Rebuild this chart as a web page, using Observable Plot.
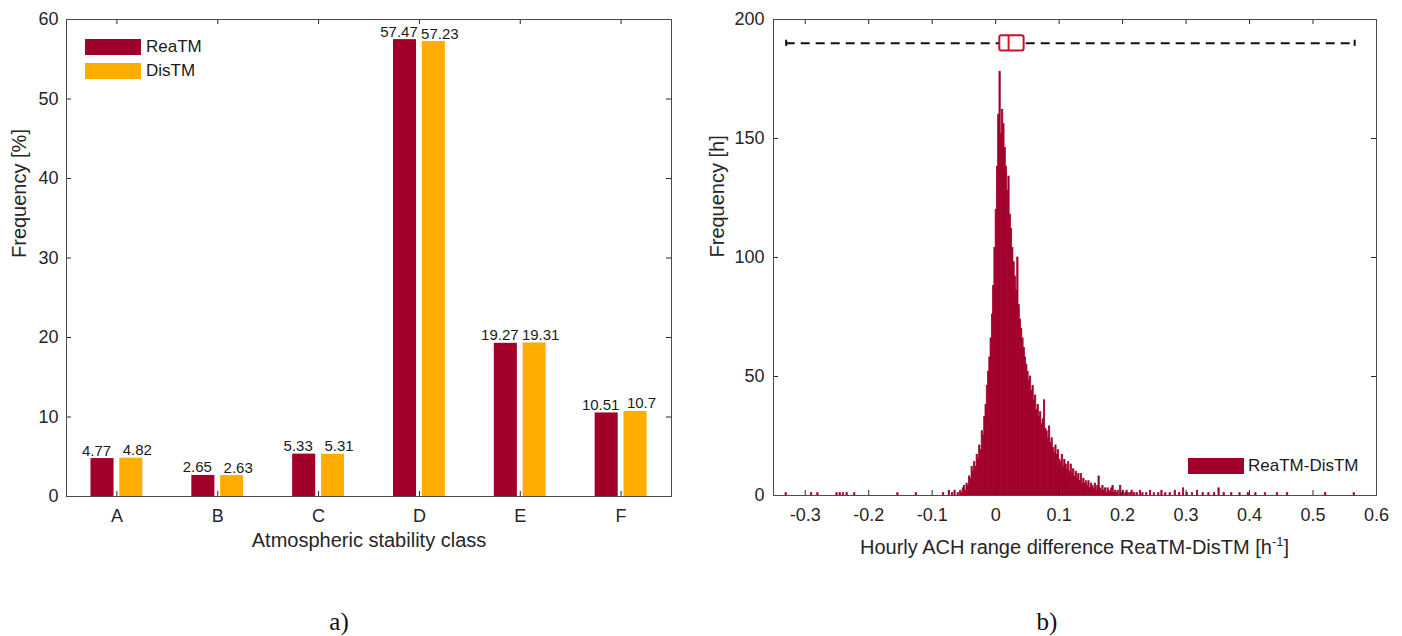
<!DOCTYPE html>
<html>
<head>
<meta charset="utf-8">
<script src="https://cdn.jsdelivr.net/npm/d3@7"></script>
<script src="https://cdn.jsdelivr.net/npm/@observablehq/plot@0.6"></script>
<style>
  html, body { margin: 0; padding: 0; background: #fff; }
  #fig { position: relative; width: 1402px; height: 636px; overflow: hidden;
         font-family: "Liberation Sans", Arial, Helvetica, sans-serif; color: #262626; }
  .panel { position: absolute; top: 0; }
  .sw { position: absolute; width: 56px; height: 16px; }
  .lt { position: absolute; font-size: 17px; line-height: 16px; white-space: nowrap; color: #1a1a1a; }
  .tag { position: absolute; font-family: "Liberation Serif", "Times New Roman", serif; font-size: 25px;
         color: #111; transform: translate(-50%, -50%); }
</style>
</head>
<body>
<div id="fig">
  <div id="left" class="panel" style="left:0px"></div>
  <div id="right" class="panel" style="left:700px"></div>
  <div class="tag" style="left:339px; top:622px">a)</div>
  <div class="tag" style="left:1047px; top:622px">b)</div>
</div>
<script>
// ---- a) frequency of atmospheric stability classes ----
const classes = ["A", "B", "C", "D", "E", "F"];
const reaTM = [4.77, 2.65, 5.33, 57.47, 19.27, 10.51];
const disTM = [4.82, 2.63, 5.31, 57.23, 19.31, 10.7];
const seriesNames = ["ReaTM", "DisTM"];
const seriesColors = ["#a1002b", "#ffad00"];
const freqTicks = [0, 10, 20, 30, 40, 50, 60];

// ---- b) histogram of hourly ACH range difference ----
const coreStart = -0.06;   // left edge of the first regular bin
const binWidth = 0.002;
const coreCounts = [
  1, 0, 2, 1, 3, 4, 2, 5, 4, 8,
  7, 12, 10, 14, 12, 17, 15, 21, 19, 27,
  25, 33, 38, 46, 52, 58, 66, 76, 88, 104,
  120, 138, 160, 178, 152, 162, 156, 146, 138, 128,
  134, 118, 112, 104, 98, 92, 86, 100, 80, 74,
  70, 66, 62, 58, 55, 52, 48, 50, 44, 46,
  40, 42, 36, 38, 33, 35, 30, 32, 40, 28,
  27, 24, 29, 22, 24, 20, 18, 21, 17, 19,
  15, 14, 17, 12, 15, 13, 11, 14, 10, 13,
  9, 11, 8, 10, 7, 9, 6, 9, 5, 7,
  5, 6, 4, 6, 3, 5, 4, 3, 5, 2,
  4, 8, 3, 2, 4, 2, 3, 1, 3, 2,
  1, 3, 4, 1, 2, 1, 2, 0, 4, 1,
  2, 0, 1, 2, 1, 0, 1, 2, 0, 1
];
// isolated bins in the far tails (bin centre, count)
const tailCenters = [
  -0.330, -0.290, -0.280, -0.250, -0.245, -0.240, -0.234, -0.222, -0.154, -0.125,
  -0.082, -0.073, -0.068, -0.064,
  0.223, 0.228, 0.232, 0.238, 0.244, 0.250, 0.257, 0.262, 0.268, 0.275,
  0.283, 0.290, 0.296, 0.302, 0.310, 0.318, 0.327, 0.336, 0.345, 0.352,
  0.360, 0.372, 0.385, 0.398, 0.410, 0.425, 0.444, 0.460, 0.520, 0.565
];
const tailCounts = [
  1, 1, 1, 1, 1, 1, 1, 1, 1, 1,
  1, 2, 1, 2,
  1, 2, 1, 1, 2, 1, 1, 2, 1, 1,
  2, 1, 3, 1, 1, 2, 1, 1, 1, 3,
  1, 1, 1, 1, 1, 1, 1, 1, 1, 1
];
// boxplot summary: lower whisker, Q1, median, Q3, upper whisker
const boxStats = [-0.330, 0.0065, 0.0204, 0.0448, 0.5656];
const hoursTicks = [0, 50, 100, 150, 200];
const diffTicks = [-0.3, -0.2, -0.1, 0, 0.1, 0.2, 0.3, 0.4, 0.5, 0.6];

const fontFamily = '"Liberation Sans", Arial, Helvetica, sans-serif';
const ink = "#262626";
const frameInk = "#4a4a4a";
const H = 570;

// ---------- panel a ----------
{
  const W = 700, m = {top: 19, right: 29, bottom: 74, left: 66};
  const pw = W - m.left - m.right, ph = H - m.top - m.bottom;
  const groupOffset = 1 / 7, barHalf = 0.2286 / 2;
  const offset = {ReaTM: -groupOffset, DisTM: groupOffset};
  const bars = classes.flatMap((c, i) => [
    {series: "ReaTM", pos: i + 1, value: reaTM[i]},
    {series: "DisTM", pos: i + 1, value: disTM[i]}
  ]);
  const classPos = classes.map((c, i) => i + 1);

  const svg = Plot.plot({
    width: W, height: H,
    marginTop: m.top, marginRight: m.right, marginBottom: m.bottom, marginLeft: m.left,
    style: {fontFamily, fontSize: "18px", color: ink, background: "transparent"},
    x: {domain: [0.5, 6.5], ticks: classPos, tickFormat: d => classes[d - 1], tickSize: 0, tickPadding: 13, label: null},
    y: {domain: [0, 60], ticks: freqTicks, tickSize: 0, tickPadding: 8, label: null},
    color: {domain: seriesNames, range: seriesColors},
    marks: [
      Plot.rect(bars, {
        x1: d => d.pos + offset[d.series] - barHalf,
        x2: d => d.pos + offset[d.series] + barHalf,
        y1: 0, y2: "value", fill: "series"
      }),
      Plot.text(bars.filter(d => d.series === "ReaTM"), {
        x: d => d.pos + offset[d.series], y: "value", text: d => String(d.value),
        lineAnchor: "bottom", dy: -3, dx: -6, fontSize: 15, fill: "#1a1a1a"
      }),
      Plot.text(bars.filter(d => d.series === "DisTM"), {
        x: d => d.pos + offset[d.series], y: "value", text: d => String(d.value),
        lineAnchor: "bottom", dy: -3, dx: 6, fontSize: 15, fill: "#1a1a1a"
      }),
      // inward tick marks on all four sides
      Plot.tickX(classPos, {x: d => d, insetTop: ph - 5, stroke: ink}),
      Plot.tickX(classPos, {x: d => d, insetBottom: ph - 5, stroke: ink}),
      Plot.tickY(freqTicks, {y: d => d, insetRight: pw - 5, stroke: ink}),
      Plot.tickY(freqTicks, {y: d => d, insetLeft: pw - 5, stroke: ink}),
      Plot.frame({stroke: frameInk}),
      Plot.text(["Atmospheric stability class"], {frameAnchor: "bottom", dy: 50, fontSize: 20, fill: ink}),
      Plot.text(["Frequency [%]"], {frameAnchor: "left", dx: -47, rotate: -90, fontSize: 20, fill: ink})
    ]
  });
  const host = document.getElementById("left");
  host.appendChild(svg);
  // legend
  const legendRows = [{name: seriesNames[0], color: seriesColors[0], top: 39},
                      {name: seriesNames[1], color: seriesColors[1], top: 63}];
  for (const r of legendRows) {
    const sw = document.createElement("div");
    sw.className = "sw"; sw.style.left = "85px"; sw.style.top = r.top + "px"; sw.style.background = r.color;
    const lt = document.createElement("div");
    lt.className = "lt"; lt.style.left = "146px"; lt.style.top = r.top + "px"; lt.textContent = r.name;
    host.appendChild(sw); host.appendChild(lt);
  }
}

// ---------- panel b ----------
{
  const W = 702, m = {top: 19, right: 26, bottom: 75, left: 73};
  const pw = W - m.left - m.right, ph = H - m.top - m.bottom;
  const bins = coreCounts.map((count, i) => ({
    x1: coreStart + i * binWidth, x2: coreStart + (i + 1) * binWidth, count
  })).concat(tailCenters.map((c, i) => ({
    x1: c - binWidth / 2, x2: c + binWidth / 2, count: tailCounts[i]
  }))).filter(d => d.count > 0);

  const boxLevel = 190, boxHalf = 3.2, capHalf = 1.3;
  const [lo, q1, med, q3, hi] = boxStats;

  const svg = Plot.plot({
    width: W, height: H,
    marginTop: m.top, marginRight: m.right, marginBottom: m.bottom, marginLeft: m.left,
    style: {fontFamily, fontSize: "18px", color: ink, background: "transparent"},
    x: {domain: [-0.35, 0.6], ticks: diffTicks, tickFormat: d => String(d), tickSize: 0, tickPadding: 13, label: null},
    y: {domain: [0, 200], ticks: hoursTicks, tickSize: 0, tickPadding: 9, label: null},
    marks: [
      // an opaque outline in the fill colour closes the hairline seams between adjacent bins
      Plot.rect(bins, {x1: "x1", x2: "x2", y1: 0, y2: "count", fill: seriesColors[0],
        stroke: seriesColors[0], strokeWidth: 0.8}),
      // boxplot drawn above the histogram
      Plot.ruleY([boxStats], {y: boxLevel, x1: lo, x2: hi, stroke: "#111", strokeWidth: 2, strokeDasharray: "9,6"}),
      Plot.ruleX([lo, hi], {x: d => d, y1: boxLevel - capHalf, y2: boxLevel + capHalf, stroke: "#111", strokeWidth: 2}),
      Plot.rect([boxStats], {x1: q1, x2: q3, y1: boxLevel - boxHalf, y2: boxLevel + boxHalf,
        fill: "white", stroke: "#c0142f", strokeWidth: 2, rx: 2}),
      Plot.ruleX([med], {x: d => d, y1: boxLevel - boxHalf, y2: boxLevel + boxHalf, stroke: "#e3131e", strokeWidth: 2}),
      // inward tick marks on all four sides
      Plot.tickX(diffTicks, {x: d => d, insetTop: ph - 5, stroke: ink}),
      Plot.tickX(diffTicks, {x: d => d, insetBottom: ph - 5, stroke: ink}),
      Plot.tickY(hoursTicks, {y: d => d, insetRight: pw - 5, stroke: ink}),
      Plot.tickY(hoursTicks, {y: d => d, insetLeft: pw - 5, stroke: ink}),
      Plot.frame({stroke: frameInk}),
      Plot.text(["Frequency [h]"], {frameAnchor: "left", dx: -56, rotate: -90, fontSize: 20, fill: ink})
    ]
  });
  // x-axis title with a superscript unit
  const title = d3.select(svg).append("text")
    .attr("x", m.left + pw / 2).attr("y", m.top + ph + 59)
    .attr("text-anchor", "middle").attr("font-size", 20).attr("fill", ink);
  title.append("tspan").text("Hourly ACH range difference ReaTM-DisTM [h");
  title.append("tspan").attr("font-size", 13).attr("dy", -8).text("-1");
  title.append("tspan").attr("font-size", 20).attr("dy", 8).text("]");

  const host = document.getElementById("right");
  host.appendChild(svg);
  const sw = document.createElement("div");
  sw.className = "sw"; sw.style.left = "488px"; sw.style.top = "458px"; sw.style.background = seriesColors[0];
  const lt = document.createElement("div");
  lt.className = "lt"; lt.style.left = "548px"; lt.style.top = "458px"; lt.textContent = "ReaTM-DisTM";
  host.appendChild(sw); host.appendChild(lt);
}
</script>
</body>
</html>
